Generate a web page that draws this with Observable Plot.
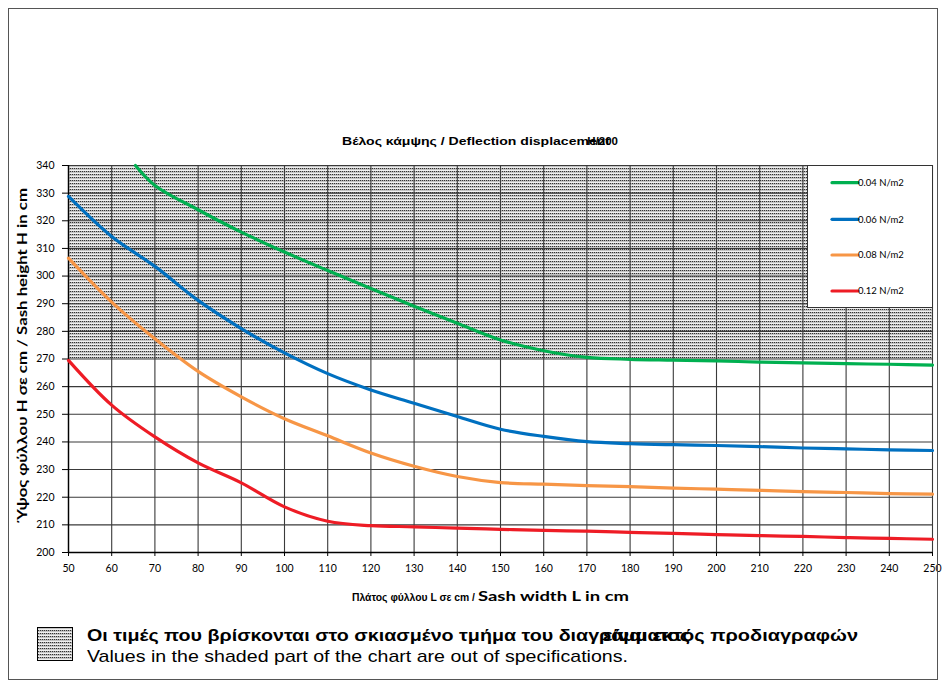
<!DOCTYPE html>
<html><head><meta charset="utf-8">
<script src="https://cdn.jsdelivr.net/npm/d3@7"></script>
<script src="https://cdn.jsdelivr.net/npm/@observablehq/plot@0.6"></script>
<style>
body{margin:0;background:#fff;}
#wrap{position:relative;width:946px;height:688px;overflow:hidden;background:#fff;}
#wrap svg{position:absolute;left:0;top:0;}
</style></head><body><div id="wrap"></div>
<script>
// ---- data ----
const xTicks = [50,60,70,80,90,100,110,120,130,140,150,160,170,180,190,200,210,220,230,240,250];
const yTicks = [200,210,220,230,240,250,260,270,280,290,300,310,320,330,340];
const seriesNames = ["0.04 N/m2","0.06 N/m2","0.08 N/m2","0.12 N/m2"];
const seriesColors = ["#00b050","#0070c0","#f79646","#ee1c25"];
const specLimit = 270;   // above this height values are out of specification
const specTop = 340;

const xGreen = [65.5,70,80,90,100,110,120,130,140,150,160,170,180,190,200,210,220,230,240,250];
const yGreen = [340,332.8,324,315.9,308.7,302,295.5,289.1,282.9,276.9,273,270.6,269.9,269.6,269.3,268.9,268.6,268.3,268.1,267.8];
const xBlue = xTicks;
const yBlue = [328.8,314.3,303.5,291.2,281,272.2,264.7,258.8,254,249.2,244.6,242,240.1,239.4,239.0,238.7,238.3,237.8,237.5,237.1,236.9];
const xOrange = xTicks;
const yOrange = [306.5,290.6,277.3,265.5,256.3,248.4,242.2,236,231.2,227.5,225.3,224.7,224.2,223.8,223.3,222.9,222.5,222.0,221.7,221.3,221.1];
const xRed = xTicks;
const yRed = [269.5,253.3,241.8,232.4,225.2,216.5,211.3,209.7,209.3,208.8,208.4,208.0,207.7,207.3,206.9,206.5,206.1,205.8,205.4,205.1,204.8];

const titleText = "Βέλος κάμψης  / Deflection displacement";
const titleText2 = "H/200";
const xLabelA = "Πλάτος φύλλου L σε cm / ";
const xLabelB = "Sash width L in cm";
const yLabel = "Ύψος φύλλου H σε cm / Sash height H in cm";
const noteGr1 = "Οι τιμές που βρίσκονται στο σκιασμένο τμήμα του διαγράμματος";
const noteGr2 = "είναι εκτός προδιαγραφών";
const noteEn = "Values in the shaded part of the chart are out of specifications.";

// ---- build table ----
const rows = [];
[[xGreen,yGreen],[xBlue,yBlue],[xOrange,yOrange],[xRed,yRed]].forEach(([xs,ys],i)=>{
  xs.forEach((x,j)=>rows.push({series:seriesNames[i], x, y:ys[j]}));
});
const band = [{x1: xTicks[0], x2: xTicks[xTicks.length-1], y1: specLimit, y2: specTop}];

function addPattern(svg, id){
  const p = svg.insert("defs", ":first-child").append("pattern")
    .attr("id", id).attr("patternUnits","userSpaceOnUse").attr("width",2).attr("height",3);
  p.append("rect").attr("width",2).attr("height",3).attr("fill","#fff");
  p.append("rect").attr("x",0).attr("y",0).attr("width",1).attr("height",1).attr("fill","#333");
  p.append("rect").attr("x",1).attr("y",0).attr("width",1).attr("height",1).attr("fill","#b0b0b0");
  p.append("rect").attr("x",0).attr("y",1).attr("width",2).attr("height",1).attr("fill","#c4c4c4");
  p.append("rect").attr("x",0).attr("y",2).attr("width",2).attr("height",1).attr("fill","#f0f0f0");
}

const chart = Plot.plot({
  width: 946, height: 688,
  marginLeft: 68, marginRight: 14, marginTop: 165, marginBottom: 136,
  style: {fontFamily: "Lato, sans-serif", fontSize: "10.5px", color: "#000", background: "transparent", overflow: "visible"},
  x: {domain: [50, 250]},
  y: {domain: [200, 340]},
  color: {domain: seriesNames, range: seriesColors},
  marks: [
    Plot.rect(band, {x1: "x1", x2: "x2", y1: "y1", y2: "y2", fill: "url(#shade)"}),
    Plot.ruleX(xTicks, {stroke: "#3a3a3a", strokeWidth: 1.1}),
    Plot.ruleY(yTicks, {stroke: "#3a3a3a", strokeWidth: 1.1}),
    Plot.ruleX([50], {stroke: "#000", strokeWidth: 1.4}),
    Plot.ruleY([200], {stroke: "#000", strokeWidth: 1.4}),
    Plot.axisX({ticks: xTicks, tickSize: 4, tickPadding: 8, label: null, tickFormat: d => String(d)}),
    Plot.axisY({ticks: yTicks, tickSize: 6, tickPadding: 8, label: null, tickFormat: d => String(d)}),
    Plot.line(rows, {x: "x", y: "y", z: "series", stroke: "series", strokeWidth: 3.2, curve: "catmull-rom"})
  ]
});
document.getElementById("wrap").appendChild(chart);
addPattern(d3.select(chart), "shade");

// ---- overlay: titles, legend, note ----
const ov = d3.select("#wrap").append("svg").attr("width",946).attr("height",688);
addPattern(ov, "shade2");
ov.append("rect").attr("x",8.5).attr("y",8.5).attr("width",929).attr("height",671)
  .attr("fill","none").attr("stroke","#555").attr("stroke-width",1);

const arial = "'Liberation Sans', Arial, sans-serif";
ov.append("text").attr("x",342).attr("y",145).attr("font-family",arial).attr("font-weight","bold")
  .attr("font-size",11.5).attr("textLength",268).attr("lengthAdjust","spacingAndGlyphs").text(titleText);
ov.append("text").attr("x",618).attr("y",145).attr("text-anchor","end").attr("font-family",arial).attr("font-weight","bold")
  .attr("font-size",11.5).text(titleText2);

// x label
ov.append("text").attr("x",352).attr("y",601).attr("font-family",arial).attr("font-weight","bold")
  .attr("font-size",11.5).attr("textLength",123).attr("lengthAdjust","spacingAndGlyphs").text(xLabelA);
ov.append("text").attr("x",478).attr("y",601).attr("font-family","Lato, sans-serif").attr("font-weight","bold")
  .attr("font-size",12.5).attr("textLength",151).attr("lengthAdjust","spacingAndGlyphs").text(xLabelB);

// y label
ov.append("text").attr("transform","translate(27,354) rotate(-90)").attr("text-anchor","middle")
  .attr("font-family","Lato, sans-serif").attr("font-weight","bold").attr("font-size",14)
  .attr("textLength",332).attr("lengthAdjust","spacingAndGlyphs").text(yLabel);

// legend
ov.append("rect").attr("x",807.5).attr("y",165.5).attr("width",125).attr("height",142)
  .attr("fill","#fff").attr("stroke","#333").attr("stroke-width",1);
const legY = [182.7,219.3,255,291];
seriesNames.forEach((s,i)=>{
  ov.append("line").attr("x1",832).attr("x2",858).attr("y1",legY[i]).attr("y2",legY[i])
    .attr("stroke",seriesColors[i]).attr("stroke-width",3.2).attr("stroke-linecap","round");
  ov.append("text").attr("x",858).attr("y",legY[i]).attr("dy","0.35em")
    .attr("font-family","Lato, sans-serif").attr("font-size",9.5).text(s);
});

// note
ov.append("rect").attr("x",37.5).attr("y",627.5).attr("width",35).attr("height",33)
  .attr("fill","url(#shade2)").attr("stroke","#000").attr("stroke-width",1);
ov.append("text").attr("x",87).attr("y",641).attr("font-family",arial).attr("font-weight","bold")
  .attr("font-size",17).attr("textLength",603).attr("lengthAdjust","spacingAndGlyphs").text(noteGr1);
ov.append("text").attr("x",603).attr("y",641).attr("font-family",arial).attr("font-weight","bold")
  .attr("font-size",17).attr("textLength",255).attr("lengthAdjust","spacingAndGlyphs").text(noteGr2);
ov.append("text").attr("x",87).attr("y",662).attr("font-family",arial)
  .attr("font-size",17).attr("textLength",541).attr("lengthAdjust","spacingAndGlyphs").text(noteEn);
</script></body></html>
